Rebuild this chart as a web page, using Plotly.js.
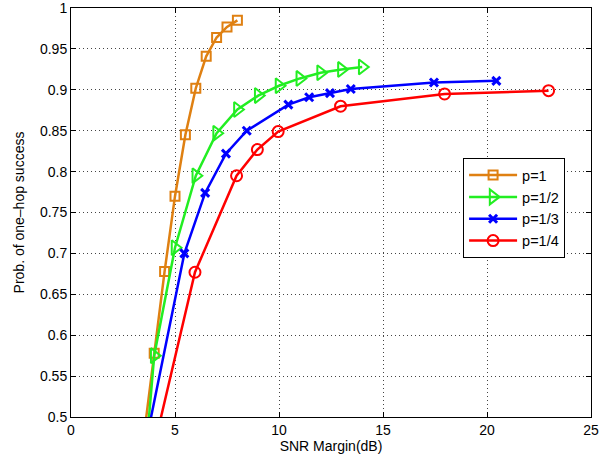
<!DOCTYPE html>
<html><head><meta charset="utf-8">
<script src="https://cdn.plot.ly/plotly-3.0.1.min.js"></script>
<style>html,body{margin:0;padding:0;background:#fff}#c{width:613px;height:464px}</style>
</head><body><div id="c"></div>
<script>
const names = ['p=1','p=1/2','p=1/3','p=1/4'];
const x1 = [3.5,4,4.5,5,5.5,6,6.5,7,7.5,8];
const y1 = [0.476,0.578,0.678,0.770,0.845,0.902,0.941,0.964,0.977,0.985];
const x2 = [3.5,4,5,6,7,8,9,10,11,12,13,14];
const y2 = [0.425,0.575,0.707,0.795,0.847,0.876,0.893,0.905,0.914,0.921,0.925,0.928];
const x3 = [3.45,5.45,6.45,7.45,8.45,10.45,11.45,12.45,13.45,17.45,20.45];
const y3 = [0.45,0.700,0.774,0.822,0.850,0.882,0.891,0.896,0.901,0.909,0.911];
const x4 = [3.96,5.96,7.96,8.96,9.96,12.96,17.96,22.96];
const y4 = [0.46,0.677,0.795,0.827,0.849,0.880,0.895,0.899];
const yTicks = [0.5,0.55,0.6,0.65,0.7,0.75,0.8,0.85,0.9,0.95,1];
const yTickText = ['0.5','0.55','0.6','0.65','0.7','0.75','0.8','0.85','0.9','0.95','1'];
const xTicks = [0,5,10,15,20,25];
const colors = ['rgb(223,128,18)','rgb(34,238,34)','rgb(0,0,255)','rgb(255,0,0)'];
const symbols = ['square-open','triangle-right-open','x-thin-open','circle-open'];
const sizes = [9,13,8,11];
const mlw = [2,2,3,2];
const xs=[x1,x2,x3,x4], ys=[y1,y2,y3,y4];
const traces = names.map((n,i)=>({
  x: xs[i], y: ys[i], name: n, type:'scatter', mode:'lines+markers',
  line:{color:colors[i], width:2.5},
  marker:{symbol:symbols[i], size:sizes[i], color:colors[i], line:{color:colors[i], width:mlw[i]}}
}));
const font = {family:'"Liberation Sans", Arial, Helvetica, sans-serif', size:14, color:'#000'};
const axisCommon = {
  showline:true, mirror:'ticks', linecolor:'#000', linewidth:1,
  ticks:'inside', ticklen:5, tickcolor:'#000',
  showgrid:true, gridcolor:'#444', griddash:'1px,3px', gridwidth:1,
  zeroline:false, tickfont:font, ticklabeloverflow:'allow'
};
const layout = {
  width:613, height:464, paper_bgcolor:'#fff', plot_bgcolor:'#fff',
  margin:{l:71, r:22, t:8, b:47},
  font: font,
  showlegend:true,
  legend:{x:0.754, y:0.633, xanchor:'left', yanchor:'top', bgcolor:'#fff',
          bordercolor:'#000', borderwidth:1, font:{family:font.family, size:14.5, color:'#000'},
          itemwidth:48, tracegroupgap:2},
  xaxis: Object.assign({}, axisCommon, {range:[0,25], tickvals:xTicks,
    title:{text:'SNR Margin(dB)', font:font, standoff:4}}),
  yaxis: Object.assign({}, axisCommon, {range:[0.5,1.0001],
    tickvals:yTicks, ticktext:yTickText,
    title:{text:'Prob. of one\u2013hop success', font:font, standoff:12}})
};
Plotly.newPlot('c', traces, layout, {displayModeBar:false, staticPlot:true});
</script></body></html>
